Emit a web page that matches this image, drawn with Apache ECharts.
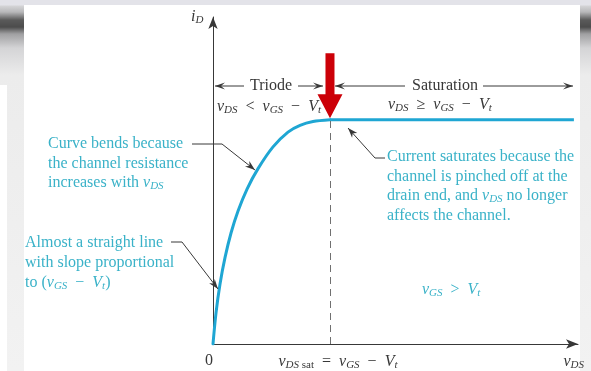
<!DOCTYPE html>
<html><head><meta charset="utf-8">
<script src="https://cdn.jsdelivr.net/npm/echarts/dist/echarts.min.js"></script>
<style>
html,body{margin:0;padding:0;width:591px;height:371px;overflow:hidden}
body{background:linear-gradient(to bottom,#e3e3e9 0px,#e3e3e9 5px,#d4d4d6 6px,#b8b8ba 12px,#5a5a5a 20px,#4c4c4c 27px,#a0a0a2 34px,#d4d4d6 48px,#ececec 75px,#f2f2f2 100%)}
#panel{position:absolute;left:24px;top:5px;width:556px;height:366px;background:#fff}
#lw{position:absolute;left:0;top:85px;width:7px;height:286px;background:#fff}
#chart{position:absolute;left:0;top:0;width:591px;height:371px}
</style></head>
<body>
<div id="panel"></div><div id="lw"></div>
<div id="chart"></div>
<script>
// ---- data (arbitrary units: vDSsat = 1, iD at saturation = 1) ----
const vdsTriode = [0, 0.026, 0.060, 0.103, 0.154, 0.214, 0.291, 0.385, 0.513, 0.641, 0.744, 0.855, 1];
const idTriode  = [0, 0.140, 0.268, 0.386, 0.495, 0.593, 0.691, 0.782, 0.879, 0.945, 0.975, 0.992, 1];
const vdsSaturation = [1, 3.085];
const idSaturation  = [1, 1];
const vdsSat = 1;
const idSat = 1;
const xTickValues = [0, 1];
const xTickLabels = ['{z|0}', '{p|}{i|v}{s|DS}{u| sat}  {n|=}  {i|v}{s|GS}  {n|−}  {i|V}{s|t}'];

const SERIF = '"Liberation Serif","DejaVu Serif",serif';
const DARK = '#383838';
const CYAN_T = '#3ab2c8';
const CYAN_L = '#1fa6d3';
const FS = 16;

function richFor(color){
  return {
    n:{fontFamily:SERIF,fontSize:FS,color:color},
    z:{fontFamily:SERIF,fontSize:FS,color:color,padding:[0,8,0,0]},
    p:{fontFamily:SERIF,fontSize:FS,color:color,padding:[0,0,0,16]},
    i:{fontFamily:SERIF,fontSize:FS,fontStyle:'italic',color:color},
    s:{fontFamily:SERIF,fontSize:11,fontStyle:'italic',color:color,padding:[7,0,0,0]},
    u:{fontFamily:SERIF,fontSize:11,color:color,padding:[7,0,0,0]}
  };
}

const chart = echarts.init(document.getElementById('chart'), null, {renderer:'canvas'});
const xMax = 3.12, yMax = 1.458;

chart.setOption({
  animation:false,
  grid:{left:213, top:17, width:365, height:328, containLabel:false},
  xAxis:{type:'value', min:0, max:xMax, interval:1,
    axisLine:{show:true, lineStyle:{color:DARK,width:1}, symbol:['none','arrow'], symbolSize:[7,12]},
    axisTick:{show:false}, splitLine:{show:false},
    axisLabel:{show:true, margin:9, fontFamily:SERIF, fontSize:FS, color:DARK, rich:richFor(DARK),
      formatter:function(v){ const k = xTickValues.indexOf(Math.round(v*1000)/1000); return k>=0 ? xTickLabels[k] : ''; }}
  },
  yAxis:{type:'value', min:0, max:yMax,
    axisLine:{show:true, lineStyle:{color:DARK,width:1}, symbol:['none','arrow'], symbolSize:[7,12]},
    axisTick:{show:false}, splitLine:{show:false}, axisLabel:{show:false}
  },
  series:[{
    type:'line', data:vdsTriode.map((v,i)=>[v,idTriode[i]]),
    smooth:0.3, showSymbol:false, symbol:'none',
    lineStyle:{color:CYAN_L, width:3, cap:'round'}, silent:true, z:3,
    markLine:{silent:true, symbol:['none','none'], label:{show:false},
      lineStyle:{color:'#707070', type:[7,5], width:1},
      data:[[{coord:[vdsSat,0]},{coord:[vdsSat,idSat]}]]},
    markPoint:{silent:true, z:10,
      data:[{coord:[vdsSat,idSat], symbol:'path://M8,0 L17,0 L17,41 L25,41 L12.5,65 L0,41 L8,41 Z',
        symbolSize:[25,65], symbolOffset:[0,-34], itemStyle:{color:'#cc0008'}, label:{show:false}}]}
  },{
    type:'line', data:vdsSaturation.map((v,i)=>[v,idSaturation[i]]),
    showSymbol:false, symbol:'none',
    lineStyle:{color:CYAN_L, width:3}, silent:true, z:3
  }]
});

// ---- annotations ----
function headPts(p, q, L, w, notch){
  const dx=q[0]-p[0], dy=q[1]-p[1], len=Math.hypot(dx,dy), ux=dx/len, uy=dy/len, nx=-uy, ny=ux;
  const bx=q[0]-ux*L, by=q[1]-uy*L;
  return [q,[bx+nx*w,by+ny*w],[q[0]-ux*L*notch,q[1]-uy*L*notch],[bx-nx*w,by-ny*w]];
}
function arrow(points, color, L, w, notch){
  const n=points.length;
  return [
    {type:'polyline', shape:{points:points}, style:{stroke:color, lineWidth:1, fill:null}, z:20},
    {type:'polygon', shape:{points:headPts(points[n-2],points[n-1],L,w,notch)}, style:{fill:color}, z:20}
  ];
}
function txt(x,y,text,color,align){
  return {type:'text', z:25, style:{x:x,y:y,text:text,rich:richFor(color),fill:color,
    font:FS+'px '+SERIF, fontFamily:SERIF, fontSize:FS, align:align||'left', textAlign:align||'left',
    verticalAlign:'middle', textVerticalAlign:'middle'}};
}

let g = [];
// region brackets
const ay = 86;
g = g.concat(arrow([[244,ay],[215,ay]], DARK, 10, 3.5, 0.6));
g = g.concat(arrow([[298,ay],[323,ay]], DARK, 10, 3.5, 0.6));
g = g.concat(arrow([[405,ay],[335,ay]], DARK, 10, 3.5, 0.6));
g = g.concat(arrow([[483,ay],[573,ay]], DARK, 10, 3.5, 0.6));
g.push(txt(271,ay,'Triode',DARK,'center'));
g.push(txt(445,ay,'Saturation',DARK,'center'));
g.push(txt(217,107,'{i|v}{s|DS}  {n|<}  {i|v}{s|GS}  {n|−}  {i|V}{s|t}',DARK,'left'));
g.push(txt(388,105,'{i|v}{s|DS}  {n|≥}  {i|v}{s|GS}  {n|−}  {i|V}{s|t}',DARK,'left'));
// axis names
g.push(txt(191,17,'{i|i}{s|D}',DARK,'left'));
g.push(txt(584,362,'{i|v}{s|DS}',DARK,'right'));
// note: curve bends
g.push(txt(48,144,'Curve bends because',CYAN_T));
g.push(txt(48,163.5,'the channel resistance',CYAN_T));
g.push(txt(48,183,'increases with {i|v}{s|DS}',CYAN_T));
g = g.concat(arrow([[192,144],[222,144],[255,170]], DARK, 10, 3.5, 0.7));
// note: straight line
g.push(txt(25,243,'Almost a straight line',CYAN_T));
g.push(txt(25,263,'with slope proportional',CYAN_T));
g.push(txt(25,283,'to ({i|v}{s|GS}  {n|−}  {i|V}{s|t}{n|)}',CYAN_T));
g = g.concat(arrow([[171,242],[182,242],[218,289]], DARK, 10, 3.5, 0.7));
// note: saturation
g.push(txt(387,157,'Current saturates because the',CYAN_T));
g.push(txt(387,176.5,'channel is pinched off at the',CYAN_T));
g.push(txt(387,196,'drain end, and {i|v}{s|DS} {n|no longer}',CYAN_T));
g.push(txt(387,215.5,'affects the channel.',CYAN_T));
g = g.concat(arrow([[385,158],[375,158],[348,128]], DARK, 10, 3.5, 0.7));
g.push(txt(422,290,'{i|v}{s|GS}  {n|>}  {i|V}{s|t}',CYAN_T));

chart.setOption({graphic:g});
</script>
</body></html>
